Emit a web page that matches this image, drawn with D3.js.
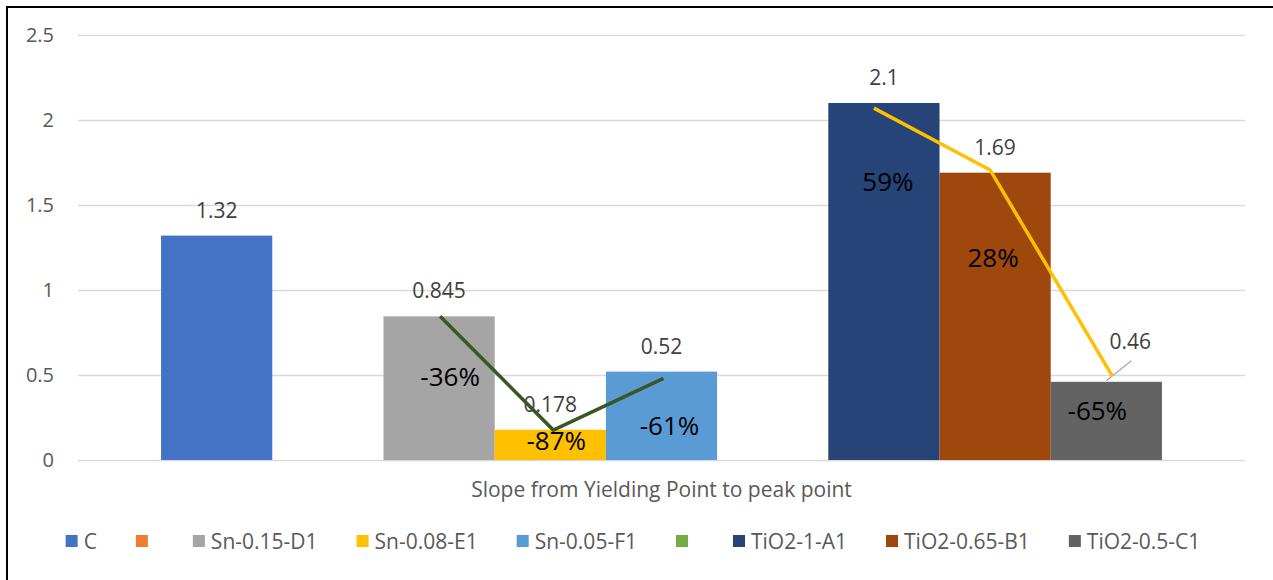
<!DOCTYPE html>
<html>
<head>
<meta charset="utf-8">
<script src="https://cdn.jsdelivr.net/npm/d3@7"></script>
<style>
body { margin: 0; background: #fff; }
svg { display: block; font-family: 'Open Sans', sans-serif; }
</style>
</head>
<body>
<svg></svg>
<script>
var categories = ['Slope from Yielding Point to peak point'];
var seriesNames = ['C', '', 'Sn-0.15-D1', 'Sn-0.08-E1', 'Sn-0.05-F1', '', 'TiO2-1-A1', 'TiO2-0.65-B1', 'TiO2-0.5-C1'];
var seriesValues = [1.32, 0, 0.845, 0.178, 0.52, 0, 2.1, 1.69, 0.46];
var seriesColors = ['#4472C4', '#ED7D31', '#A5A5A5', '#FFC000', '#5B9BD5', '#70AD47', '#264478', '#9E480E', '#636363'];
var yTicks = [0, 0.5, 1, 1.5, 2, 2.5];

// change relative to C, typed on the bars
var changeLabels = ['', '', '-36%', '-87%', '-61%', '', '59%', '28%', '-65%'];

// hand drawn trend lines over the Sn and TiO2 groups
var snTrendSeries = [2, 3, 4];
var snTrendValues = [0.845, 0.176, 0.48];
var tioTrendSeries = [6, 7, 8];
var tioTrendValues = [2.07, 1.706, 0.494];

var width = 1273;
var height = 580;
var plot = { left: 78, right: 1245, top: 35, bottom: 460 };

var svg = d3.select('svg')
  .attr('width', width)
  .attr('height', height);

// frame (top and left edges only show in the crop)
svg.append('line')
  .attr('x1', 6).attr('x2', width)
  .attr('y1', 7).attr('y2', 7)
  .attr('stroke', '#000').attr('stroke-width', 2);
svg.append('line')
  .attr('x1', 7).attr('x2', 7)
  .attr('y1', 6).attr('y2', height)
  .attr('stroke', '#000').attr('stroke-width', 2);

var x0 = d3.scaleBand()
  .domain(categories)
  .range([plot.left, plot.right])
  .paddingInner(0)
  .paddingOuter(0.083);

var x1 = d3.scaleBand()
  .domain(d3.range(seriesNames.length))
  .range([0, x0.bandwidth()]);

var y = d3.scaleLinear()
  .domain([0, 2.5])
  .range([plot.bottom, plot.top]);

var yAxis = d3.axisLeft(y)
  .tickValues(yTicks)
  .tickFormat(d3.format('~g'))
  .tickSize(-(plot.right - plot.left))
  .tickPadding(24);

var gy = svg.append('g')
  .attr('class', 'axis y-axis')
  .attr('transform', 'translate(' + plot.left + ',0)')
  .call(yAxis);
gy.select('.domain').remove();
gy.selectAll('.tick line')
  .attr('stroke', '#D9D9D9')
  .attr('stroke-width', 1.4);
gy.selectAll('.tick text')
  .attr('fill', '#595959')
  .style('font-size', '20px')
  .style('font-family', "'Open Sans', sans-serif");

var xAxis = d3.axisBottom(x0)
  .tickSize(0)
  .tickPadding(22);

var gx = svg.append('g')
  .attr('class', 'axis x-axis')
  .attr('transform', 'translate(0,' + plot.bottom + ')')
  .call(xAxis);
gx.select('.domain').remove();
gx.selectAll('.tick text')
  .attr('fill', '#595959')
  .style('font-size', '21px')
  .style('font-family', "'Open Sans', sans-serif");

var bars = seriesValues.map(function(v, i) {
  return { i: i, name: seriesNames[i], value: v, color: seriesColors[i] };
});

var g = svg.append('g')
  .attr('transform', 'translate(' + x0(categories[0]) + ',0)');

g.selectAll('rect.bar')
  .data(bars)
  .enter().append('rect')
  .attr('class', 'bar')
  .attr('x', function(d) { return x1(d.i); })
  .attr('width', x1.bandwidth())
  .attr('y', function(d) { return y(d.value); })
  .attr('height', function(d) { return y(0) - y(d.value); })
  .attr('fill', function(d) { return d.color; });

// value labels; the last one was dragged aside with a leader line
var movedLabel = { i: 8, dx: 24, dy: -15 };

g.selectAll('text.value')
  .data(bars.filter(function(d) { return d.value > 0; }))
  .enter().append('text')
  .attr('class', 'value')
  .attr('x', function(d) {
    var cx = x1(d.i) + x1.bandwidth() / 2;
    return d.i === movedLabel.i ? cx + movedLabel.dx : cx;
  })
  .attr('y', function(d) {
    var yy = y(d.value) - 18;
    return d.i === movedLabel.i ? yy + movedLabel.dy : yy;
  })
  .attr('text-anchor', 'middle')
  .attr('fill', '#404040')
  .style('font-size', '21px')
  .text(function(d) { return d3.format('~g')(d.value); });

var moved = bars[movedLabel.i];
g.append('line')
  .attr('x1', x1(moved.i) + x1.bandwidth() / 2)
  .attr('y1', y(moved.value) - 1)
  .attr('x2', x1(moved.i) + x1.bandwidth() / 2 + movedLabel.dx + 1)
  .attr('y2', y(moved.value) + movedLabel.dy - 6)
  .attr('stroke', '#A6A6A6')
  .attr('stroke-width', 1.2);

// trend lines
var trendLine = d3.line()
  .x(function(d) { return x1(d.i) + x1.bandwidth() / 2 + d.dx; })
  .y(function(d) { return y(d.v); });

var snPts = snTrendSeries.map(function(s, k) {
  return { i: s, v: snTrendValues[k], dx: [1, 3, 2][k] };
});
var tioPts = tioTrendSeries.map(function(s, k) {
  return { i: s, v: tioTrendValues[k], dx: [-10, -5, 6][k] };
});

g.append('path')
  .datum(snPts)
  .attr('d', trendLine)
  .attr('fill', 'none')
  .attr('stroke', '#385723')
  .attr('stroke-width', 3.5);

g.append('path')
  .datum(tioPts)
  .attr('d', trendLine)
  .attr('fill', 'none')
  .attr('stroke', '#FFC000')
  .attr('stroke-width', 3.5);

// percentage text boxes, placed by hand in the original
var changeOffsets = {
  2: [11, 70], 3: [6, 20], 4: [8, 63],
  6: [4, 88], 7: [-2, 94], 8: [-9, 38]
};

g.selectAll('text.change')
  .data(bars.filter(function(d) { return changeLabels[d.i] !== ''; }))
  .enter().append('text')
  .attr('class', 'change')
  .attr('x', function(d) { return x1(d.i) + x1.bandwidth() / 2 + changeOffsets[d.i][0]; })
  .attr('y', function(d) { return y(d.value) + changeOffsets[d.i][1]; })
  .attr('text-anchor', 'middle')
  .attr('fill', '#000')
  .style('font-size', '26px')
  .text(function(d) { return changeLabels[d.i]; });

// legend
var legend = svg.append('g').attr('class', 'legend');
var items = legend.selectAll('g.item')
  .data(bars)
  .enter().append('g')
  .attr('class', 'item');

items.append('rect')
  .attr('width', 12)
  .attr('height', 12)
  .attr('y', -6)
  .attr('fill', function(d) { return d.color; });

items.append('text')
  .attr('x', 18)
  .attr('y', 7.5)
  .attr('fill', '#595959')
  .style('font-size', '21px')
  .text(function(d) { return d.name; });

var offsets = [];
var cursor = 0;
items.each(function(d) {
  offsets.push(cursor);
  var tw = d.name ? d3.select(this).select('text').node().getComputedTextLength() : 0;
  cursor += 12 + 6 + tw + 39;
});
var totalW = cursor - 39;
var legendCenter = 633;
items.attr('transform', function(d, i) {
  return 'translate(' + (legendCenter - totalW / 2 + offsets[i]) + ',541)';
});
</script>
</body>
</html>
